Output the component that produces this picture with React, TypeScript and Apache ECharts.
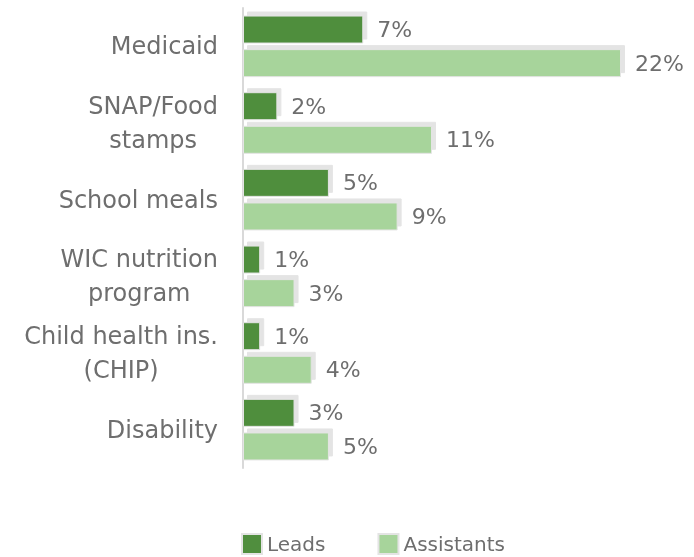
import React, { useEffect, useRef } from "react";
import * as echarts from "echarts";

const categories = ["Medicaid", "SNAP/Food\nstamps", "School meals", "WIC nutrition\nprogram", "Child health ins.\n(CHIP)", "Disability"];
const leads = [7, 2, 5, 1, 1, 3];
const assistants = [22, 11, 9, 3, 4, 5];
const seriesNames = ["Leads", "Assistants"];

const DARK = "#508e3e";
const LIGHT = "#a7d49b";
const BORDER = "#e4e4e4";
const TEXT = "#6e6e6e";
const FONT = "DejaVu Sans";

export default function App() {
  const ref = useRef<HTMLDivElement>(null);
  useEffect(() => {
    if (!ref.current) return;
    const chart = echarts.init(ref.current, null, { renderer: "svg" });
    const barStyle = (color: string) => ({
      color,
      borderColor: BORDER,
      borderWidth: 1,
      shadowColor: BORDER,
      shadowOffsetX: 4,
      shadowOffsetY: -4,
      shadowBlur: 0,
    });
    const label = {
      show: true,
      position: "right",
      distance: 14,
      formatter: "{c}%",
      color: TEXT,
      fontFamily: FONT,
      fontSize: 22,
    };
    chart.setOption({
      animation: false,
      grid: { left: 243, right: 73, top: 8, bottom: 89, containLabel: false },
      legend: {
        top: 533,
        left: 241,
        padding: 0,
        itemWidth: 20,
        itemHeight: 20,
        itemGap: 52,
        icon: "rect",
        textStyle: { color: TEXT, fontFamily: FONT, fontSize: 20, lineHeight: 22 },
        itemStyle: { borderColor: BORDER, borderWidth: 2 },
        data: seriesNames,
      },
      xAxis: {
        type: "value",
        min: 0,
        max: 22,
        show: false,
      },
      yAxis: {
        type: "category",
        inverse: true,
        data: categories,
        axisLine: { show: true, lineStyle: { color: "#d9d9d9", width: 2 } },
        axisTick: { show: false },
        axisLabel: {
          margin: 25,
          formatter: (v: string) => v.split("\n").map((s) => "{c|" + s + "}").join("\n"),
          rich: {
            c: { align: "center", color: TEXT, fontFamily: FONT, fontSize: 24, lineHeight: 34 },
          },
        },
      },
      series: [
        {
          name: seriesNames[0],
          type: "bar",
          data: leads,
          barWidth: 28,
          barGap: "20%",
          itemStyle: barStyle(DARK),
          label,
        },
        {
          name: seriesNames[1],
          type: "bar",
          data: assistants,
          barWidth: 28,
          barGap: "20%",
          itemStyle: barStyle(LIGHT),
          label,
        },
      ],
    });
    return () => chart.dispose();
  }, []);
  return <div ref={ref} style={{ position: "fixed", left: 0, top: 0, width: 694, height: 557 }} />;
}
